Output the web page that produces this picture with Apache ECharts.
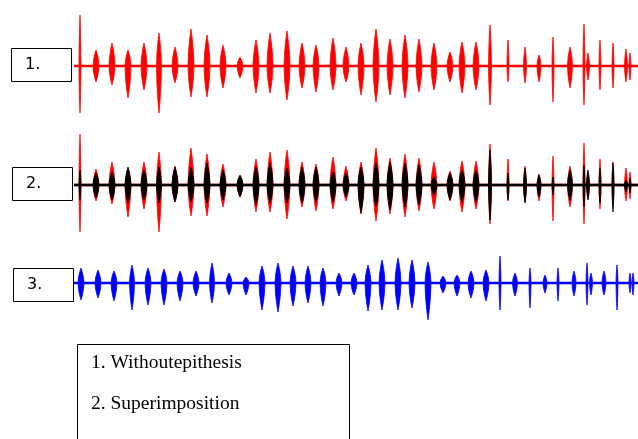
<!DOCTYPE html>
<html><head><meta charset="utf-8">
<script src="https://cdn.jsdelivr.net/npm/echarts@6/dist/echarts.min.js"></script>
<style>html,body{margin:0;padding:0;background:#fff}#c{width:638px;height:439px}</style>
</head><body><div id="c"></div>
<script>
// Burst positions (time units) and envelope amplitudes (arbitrary units)
const redPos   = [6,22,38,54,70,85,101,117,133,149,166,182,196,213,228,242,259,272,287,302,316,331,345,360,376,388,402,416,434,451,465,479,496,510,514,526,539,552,556];
const redUp    = [51,16,23,16,23,33,19,37,31,21,9,26,33,35,23,21,28,19,23,37,27,31,27,23,14,24,24,41,26,19,11,29,19,42,13,26,23,17,13];
const redDown  = [47,16,19,32,24,47,17,31,31,22,12,27,27,34,22,26,24,16,29,36,29,32,26,24,16,27,24,39,16,17,16,36,22,39,14,24,22,16,14];
const redWidth = [2,6,6,6,6,5,6,6,6,6,6,6,6,6,6,6,6,6,6,6,6,6,6,6,6,6,6,3,2,3,4,2,5,2,3,2,2,3,2];
const blackUp   = [15,12,13,18,15,18,18,18,22,15,10,18,22,17,18,18,13,12,18,22,23,22,20,8,12,15,15,35,12,17,10,8,15,20,15,17,22,5,7];
const blackDown = [15,13,15,18,15,18,17,17,18,15,12,20,18,18,18,17,17,12,28,22,25,22,20,10,15,17,17,35,15,18,12,10,15,22,15,18,27,7,8];
const bluePos   = [7,24,40,58,74,90,106,122,138,155,172,188,204,219,234,249,265,280,294,308,324,338,354,369,383,397,412,426,441,456,471,484,500,513,517,530,543,556,559];
const blueUp    = [15,13,12,18,15,14,12,12,20,10,6,17,20,17,17,15,10,10,18,23,25,23,21,7,8,12,13,27,10,15,8,15,12,20,10,12,18,10,10];
const blueDown  = [17,15,18,27,22,22,18,13,20,12,12,27,29,23,20,23,13,12,28,27,27,25,37,10,13,15,18,27,13,25,10,18,13,22,12,12,27,10,12];
const blueWidth = [6,6,6,5,6,6,6,6,5,6,6,6,6,6,6,6,6,6,6,6,6,6,6,6,6,6,6,2,5,2,4,2,4,2,3,4,2,2,2];
const timeRange = [0, 564];
const panelLabels = ['1.', '2.', '3.'];
const legendLines = ['1. Withoutepithesis', '2. Superimposition'];

const RED = '#ff0000', BLACK = '#000000', BLUE = '#0000ff';

function bursts(pos, up, down, w) {
  return pos.map((p, i) => [p, up[i], down[i], w[i]]);
}
function renderBurst(color) {
  return function (params, api) {
    const x = api.value(0), up = api.value(1), dn = api.value(2), w = api.value(3);
    const c0 = api.coord([x, 0]);
    const ct = api.coord([x, up]);
    const cb = api.coord([x, -dn]);
    const hw = api.size([w, 0])[0] / 2;
    const cx = c0[0], cy = c0[1];
    const ht = cy - ct[1], hb = cb[1] - cy;
    const pts = [
      [cx - hw, cy],
      [cx - hw * 0.8, cy - ht * 0.4],
      [cx - hw * 0.4, cy - ht * 0.75],
      [cx - hw * 0.12, cy - ht * 0.92],
      [cx, cy - ht],
      [cx + hw * 0.12, cy - ht * 0.92],
      [cx + hw * 0.4, cy - ht * 0.75],
      [cx + hw * 0.8, cy - ht * 0.4],
      [cx + hw, cy],
      [cx + hw * 0.8, cy + hb * 0.4],
      [cx + hw * 0.4, cy + hb * 0.75],
      [cx + hw * 0.12, cy + hb * 0.92],
      [cx, cy + hb],
      [cx - hw * 0.12, cy + hb * 0.92],
      [cx - hw * 0.4, cy + hb * 0.75],
      [cx - hw * 0.8, cy + hb * 0.4]
    ];
    return { type: 'polygon', shape: { points: pts }, style: { fill: color, stroke: color, lineWidth: 0.8 } };
  };
}

const grids = [
  { left: 74, width: 564, top: 16, height: 100 },
  { left: 74, width: 564, top: 135, height: 100 },
  { left: 74, width: 564, top: 233, height: 100 }
];
const xAxes = grids.map((g, i) => ({ gridIndex: i, type: 'value', min: timeRange[0], max: timeRange[1], show: false }));
const yAxes = grids.map((g, i) => ({ gridIndex: i, type: 'value', min: -50, max: 50, show: false }));

function baseline(i, color, width, z) {
  return { type: 'line', xAxisIndex: i, yAxisIndex: i, data: [[timeRange[0], 0], [timeRange[1], 0]],
           symbol: 'none', lineStyle: { color: color, width: width }, z: z, silent: true };
}
function burstSeries(i, color, data, z) {
  return { type: 'custom', xAxisIndex: i, yAxisIndex: i, data: data, renderItem: renderBurst(color), z: z, silent: true, clip: false };
}

const redData = bursts(redPos, redUp, redDown, redWidth);
const blackData = bursts(redPos, blackUp, blackDown, redWidth);
const blueData = bursts(bluePos, blueUp, blueDown, blueWidth);

const series = [
  baseline(0, RED, 2.5, 2), burstSeries(0, RED, redData, 3),
  baseline(1, RED, 2.5, 2), burstSeries(1, RED, redData, 3),
  burstSeries(1, BLACK, blackData, 4), baseline(1, BLACK, 2.5, 5),
  baseline(2, BLUE, 2.5, 2), burstSeries(2, BLUE, blueData, 3)
];

const boxes = [
  { x: 11, y: 48, t: panelLabels[0] },
  { x: 12, y: 167, t: panelLabels[1] },
  { x: 13, y: 268, t: panelLabels[2] }
];
const graphic = [];
boxes.forEach(b => {
  graphic.push({ type: 'rect', left: b.x, top: b.y, shape: { width: 60, height: 33 },
    style: { fill: '#fff', stroke: '#000', lineWidth: 1 }, z: 10 });
  graphic.push({ type: 'text', left: b.x + 14, top: b.y + 9,
    style: { text: b.t, fill: '#000', font: '16px "DejaVu Sans", Verdana, sans-serif' }, z: 11 });
});
graphic.push({ type: 'rect', left: 77, top: 344, shape: { width: 272, height: 110 },
  style: { fill: '#fff', stroke: '#000', lineWidth: 1 }, z: 10 });
graphic.push({ type: 'text', left: 91, top: 353,
  style: { text: legendLines[0], fill: '#000', font: '19.5px "Liberation Serif", "DejaVu Serif", serif' }, z: 11 });
graphic.push({ type: 'text', left: 91, top: 394,
  style: { text: legendLines[1], fill: '#000', font: '19.5px "Liberation Serif", "DejaVu Serif", serif' }, z: 11 });

const chart = echarts.init(document.getElementById('c'), null, { renderer: 'canvas' });
chart.setOption({
  animation: false,
  backgroundColor: '#fff',
  grid: grids,
  xAxis: xAxes,
  yAxis: yAxes,
  series: series,
  graphic: graphic
});
</script></body></html>
